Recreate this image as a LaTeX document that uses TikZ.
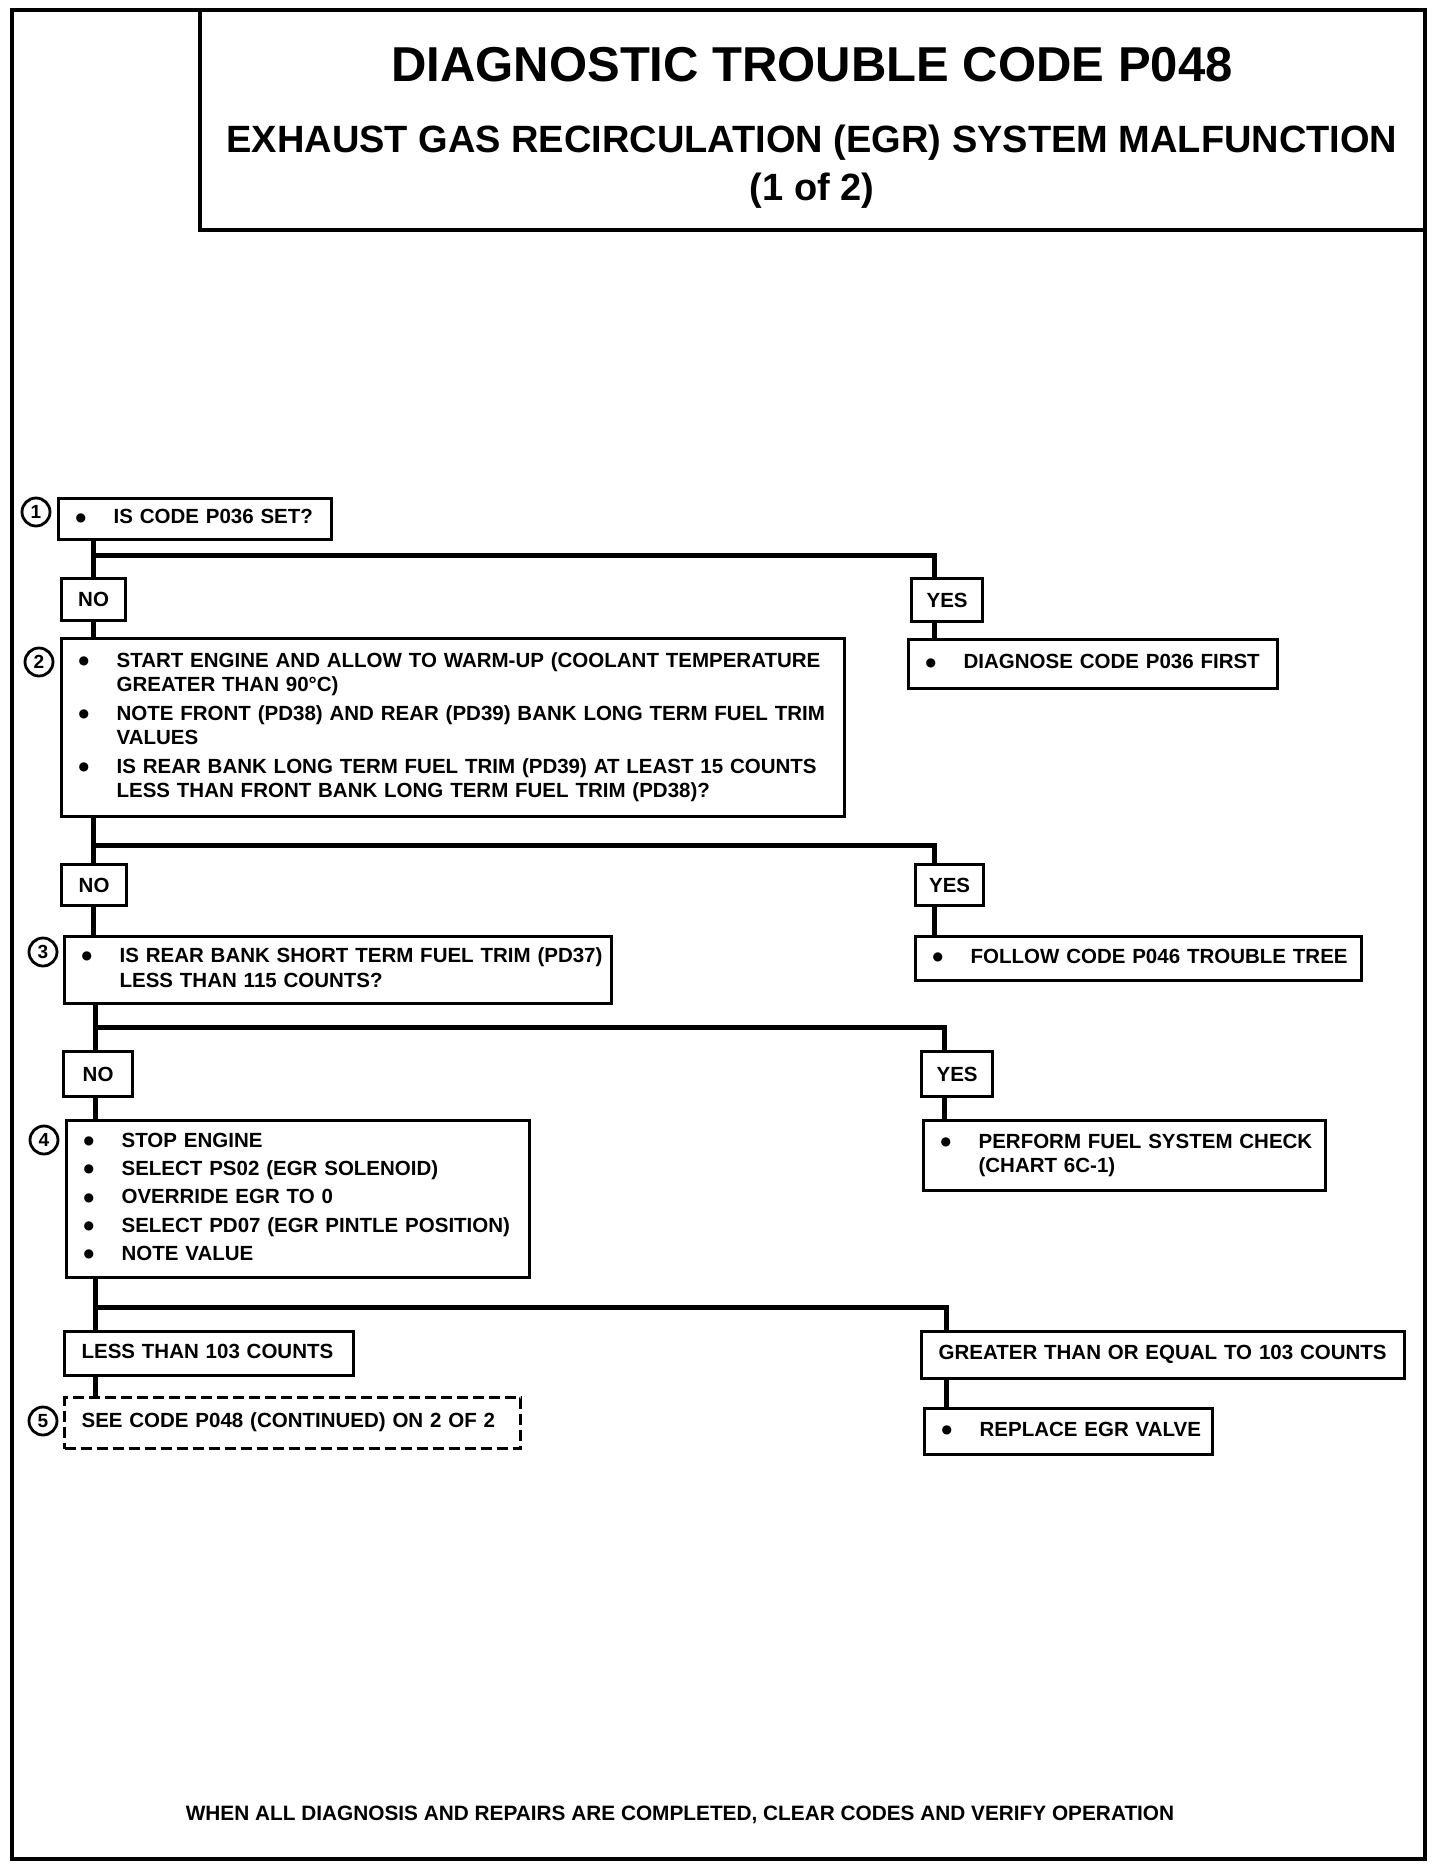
\documentclass[tikz,border=0pt]{standalone}
\usepackage{fontspec}
\setmainfont{Liberation Sans}
\newfontfamily\dvfont{DejaVu Sans}
\newcommand\boxfont{\fontsize{20.5}{24.4}\selectfont\bfseries}
\newcommand\footfont{\fontsize{20.8}{24.4}\selectfont\bfseries}
\newcommand\titleA{\fontsize{49}{55}\selectfont\bfseries}
\newcommand\titleB{\fontsize{38}{44}\selectfont\bfseries}
\newcommand\numfont{\fontsize{19}{20}\selectfont\bfseries}
\newcommand\bul{\raisebox{2.8pt}{\dvfont\fontsize{12}{12}\selectfont ●}}
\tikzset{
  frame/.style={draw, line width=4pt},
  box/.style={draw, line width=3.2pt, rectangle, anchor=north west, inner ysep=0pt, inner xsep=17pt, align=left, font=\boxfont},
  plainbox/.style={box, inner xsep=17pt},
  lab/.style={draw, line width=3.2pt, rectangle, anchor=north west, inner sep=0pt, font=\boxfont},
  conn/.style={line width=5pt},
  num/.style={draw, circle, line width=2.8pt, inner sep=0pt, minimum size=28pt, font=\numfont},
}
\begin{document}
\begin{tikzpicture}[x=1pt,y=-1pt]
\useasboundingbox (0,0) rectangle (1440,1866);
% frame and title
\draw[frame] (12,10) rectangle (1425,1859);
\draw[frame] (200,10) -- (200,230) -- (1425,230);
\node[font=\titleA, anchor=base] (t1) at (812,81) {DIAGNOSTIC TROUBLE CODE P048};
\node[font=\titleB, anchor=base] (t2) at (812,152) {EXHAUST GAS RECIRCULATION (EGR) SYSTEM MALFUNCTION};
\node[font=\titleB, anchor=base] (t3) at (812,200) {(1 of 2)};
% step 1
\node[box, text width=239pt, minimum height=41pt] (box1) at (57,497)
  {\begin{tabular}{@{}p{38pt}@{}l@{}}\bul & IS CODE P036 SET?\end{tabular}};
\node[num] (c1) at (36,512) {1};
\node[lab, minimum width=64pt, minimum height=42pt] (no1) at (60,577) {NO};
\node[lab, minimum width=71pt, minimum height=43pt] (yes1) at (910,577) {YES};
% step 2
\node[box, text width=749pt, minimum height=178pt] (box2) at (60,637)
  {\begin{tabular}{@{}p{38pt}@{}l@{}}
  \bul & START ENGINE AND ALLOW TO WARM-UP (COOLANT TEMPERATURE\\
       & GREATER THAN 90°C)\\[4.2pt]
  \bul & NOTE FRONT (PD38) AND REAR (PD39) BANK LONG TERM FUEL TRIM\\
       & VALUES\\[4.2pt]
  \bul & IS REAR BANK LONG TERM FUEL TRIM (PD39) AT LEAST 15 COUNTS\\
       & LESS THAN FRONT BANK LONG TERM FUEL TRIM (PD38)?
  \end{tabular}};
\node[num] (c2) at (39,662) {2};
\node[box, text width=335pt, minimum height=49pt] (diag) at (907,638)
  {\begin{tabular}{@{}p{38pt}@{}l@{}}\bul & DIAGNOSE CODE P036 FIRST\end{tabular}};
\node[lab, minimum width=65pt, minimum height=41pt] (no2) at (60,863) {NO};
\node[lab, minimum width=68pt, minimum height=41pt] (yes2) at (914,863) {YES};
% step 3
\node[box, text width=513pt, minimum height=67pt] (box3) at (63,935)
  {\begin{tabular}{@{}p{38pt}@{}l@{}}
  \bul & IS REAR BANK SHORT TERM FUEL TRIM (PD37)\\
       & LESS THAN 115 COUNTS?
  \end{tabular}};
\node[num] (c3) at (43,952) {3};
\node[box, text width=412pt, minimum height=44pt] (follow) at (914,935)
  {\begin{tabular}{@{}p{38pt}@{}l@{}}\bul & FOLLOW CODE P046 TROUBLE TREE\end{tabular}};
\node[lab, minimum width=69pt, minimum height=45pt] (no3) at (62,1050) {NO};
\node[lab, minimum width=71pt, minimum height=45pt] (yes3) at (920,1050) {YES};
% step 4
\node[box, text width=429pt, minimum height=157pt] (box4) at (65,1119)
  {\begin{tabular}{@{}p{38pt}@{}l@{}}
  \bul & STOP ENGINE\\[3.9pt]
  \bul & SELECT PS02 (EGR SOLENOID)\\[3.9pt]
  \bul & OVERRIDE EGR TO 0\\[3.9pt]
  \bul & SELECT PD07 (EGR PINTLE POSITION)\\[3.9pt]
  \bul & NOTE VALUE
  \end{tabular}};
\node[num] (c4) at (44,1140) {4};
\node[box, text width=368pt, minimum height=70pt] (perform) at (922,1119)
  {\begin{tabular}{@{}p{38pt}@{}l@{}}
  \bul & PERFORM FUEL SYSTEM CHECK\\
       & (CHART 6C-1)
  \end{tabular}};
\node[plainbox, text width=255pt, minimum height=44pt] (less) at (63,1330)
  {\begin{tabular}{@{}l@{}}LESS THAN 103 COUNTS\end{tabular}};
\node[plainbox, text width=449pt, minimum height=47pt] (greater) at (920,1330)
  {\begin{tabular}{@{}l@{}}GREATER THAN OR EQUAL TO 103 COUNTS\end{tabular}};
% step 5
\node[plainbox, dash pattern=on 11pt off 5pt, text width=422pt, minimum height=51pt] (box5) at (63,1396)
  {\begin{tabular}{@{}l@{}}SEE CODE P048 (CONTINUED) ON 2 OF 2\end{tabular}};
\node[num] (c5) at (43,1421) {5};
\node[box, text width=254pt, minimum height=46pt] (replace) at (923,1407)
  {\begin{tabular}{@{}p{38pt}@{}l@{}}\bul & REPLACE EGR VALVE\end{tabular}};
% footer
\node[font=\footfont, anchor=base] (foot) at (680,1820) {WHEN ALL DIAGNOSIS AND REPAIRS ARE COMPLETED, CLEAR CODES AND VERIFY OPERATION};
% split points
\coordinate (s1) at (93,555);  \coordinate (r1) at (934,555);
\coordinate (s2) at (93,845);  \coordinate (r2) at (934,845);
\coordinate (s3) at (95,1027); \coordinate (r3) at (944,1027);
\coordinate (s4) at (95,1307); \coordinate (r4) at (946,1307);
% connectors
\draw[conn] (box1.south -| s1) -- (no1.north -| s1);
\draw[conn] (s1) -- (r1) -- (yes1.north -| r1);
\draw[conn] (no1.south -| s1) -- (box2.north -| s1);
\draw[conn] (yes1.south -| r1) -- (diag.north -| r1);
\draw[conn] (box2.south -| s2) -- (no2.north -| s2);
\draw[conn] (s2) -- (r2) -- (yes2.north -| r2);
\draw[conn] (no2.south -| s2) -- (box3.north -| s2);
\draw[conn] (yes2.south -| r2) -- (follow.north -| r2);
\draw[conn] (box3.south -| s3) -- (no3.north -| s3);
\draw[conn] (s3) -- (r3) -- (yes3.north -| r3);
\draw[conn] (no3.south -| s3) -- (box4.north -| s3);
\draw[conn] (yes3.south -| r3) -- (perform.north -| r3);
\draw[conn] (box4.south -| s4) -- (less.north -| s4);
\draw[conn] (s4) -- (r4) -- (greater.north -| r4);
\draw[conn] (less.south -| s4) -- (box5.north -| s4);
\draw[conn] (greater.south -| r4) -- (replace.north -| r4);
\end{tikzpicture}
\end{document}
